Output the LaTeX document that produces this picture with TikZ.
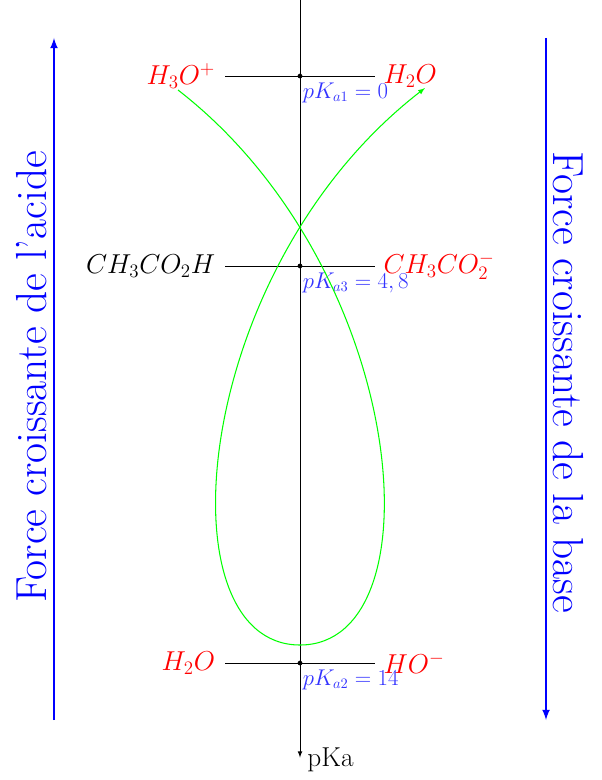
\documentclass[tikz,border=0pt]{standalone}
\usetikzlibrary{positioning}
\begin{document}
\begin{tikzpicture}[
  espece/.style={font=\huge, text=red},
  pka/.style={font=\fontsize{16}{19}\selectfont, text=blue!80, anchor=north west, inner sep=1pt},
  force/.style={font=\fontsize{33}{40}\selectfont, text=blue}
]
\useasboundingbox (0,0) rectangle (16.027,-20.8);

% axe vertical des pKa
\coordinate (haut) at (8,0);
\coordinate (bas) at (8,-20.2);
\draw[line width=0.6pt, -latex] (haut) -- (bas) node[right, font=\huge, xshift=2pt, yshift=-2pt] {pKa};

% niveaux des couples
\foreach \nom/\y in {un/-2.027, trois/-7.093, deux/-17.68} {
  \coordinate (\nom g) at (6,\y);
  \coordinate (\nom d) at (10,\y);
  \coordinate (\nom) at (8,\y);
  \draw[line width=0.6pt] (\nom g) -- (\nom d);
  \fill (\nom) circle (1.8pt);
}

% couple H3O+/H2O
\node[espece, left=4pt of ung] (hydronium) {$H_3O^+$};
\node[espece, right=3pt of und] (eauA) {$H_2O$};
\node[pka] (pkun) at ([xshift=1pt,yshift=-4pt]un) {$pK_{a1}=0$};

% couple CH3CO2H/CH3CO2-
\node[font=\huge, left=4pt of troisg] (acide) {$CH_3CO_2H$};
\node[espece, right=3pt of troisd] (base) {$CH_3CO_2^-$};
\node[pka] (pktrois) at ([xshift=1pt,yshift=-4pt]trois) {$pK_{a3}=4,8$};

% couple H2O/HO-
\node[espece, left=4pt of deuxg] (eauB) {$H_2O$};
\node[espece, right=3pt of deuxd] (hydroxyde) {$HO^-$};
\node[pka] (pkdeux) at ([xshift=1pt,yshift=-4pt]deux) {$pK_{a2}=14$};

% boucle verte
\coordinate (depart) at (4.747,-2.4);
\coordinate (fond) at (8,-17.2);
\coordinate (arrivee) at (11.333,-2.347);
\draw[green, line width=0.8pt, -latex] (depart) .. controls (10.933,-7.2) and (11.733,-17.2) .. (fond)
  .. controls (4.267,-17.2) and (5.067,-7.2) .. (arrivee);

% fleches de force
\coordinate (acbas) at (1.44,-19.2);
\coordinate (achaut) at (1.44,-1.013);
\coordinate (bahaut) at (14.56,-1.013);
\coordinate (babas) at (14.56,-19.2);
\draw[blue, line width=1.6pt, -latex] (acbas) -- (achaut);
\draw[blue, line width=1.6pt, -latex] (bahaut) -- (babas);
\node[force, rotate=90] (forceacide) at (0.85,-10.05) {Force croissante de l'acide};
\node[force, rotate=-90] (forcebase) at (15.17,-10.19) {Force croissante de la base};
\end{tikzpicture}
\end{document}
